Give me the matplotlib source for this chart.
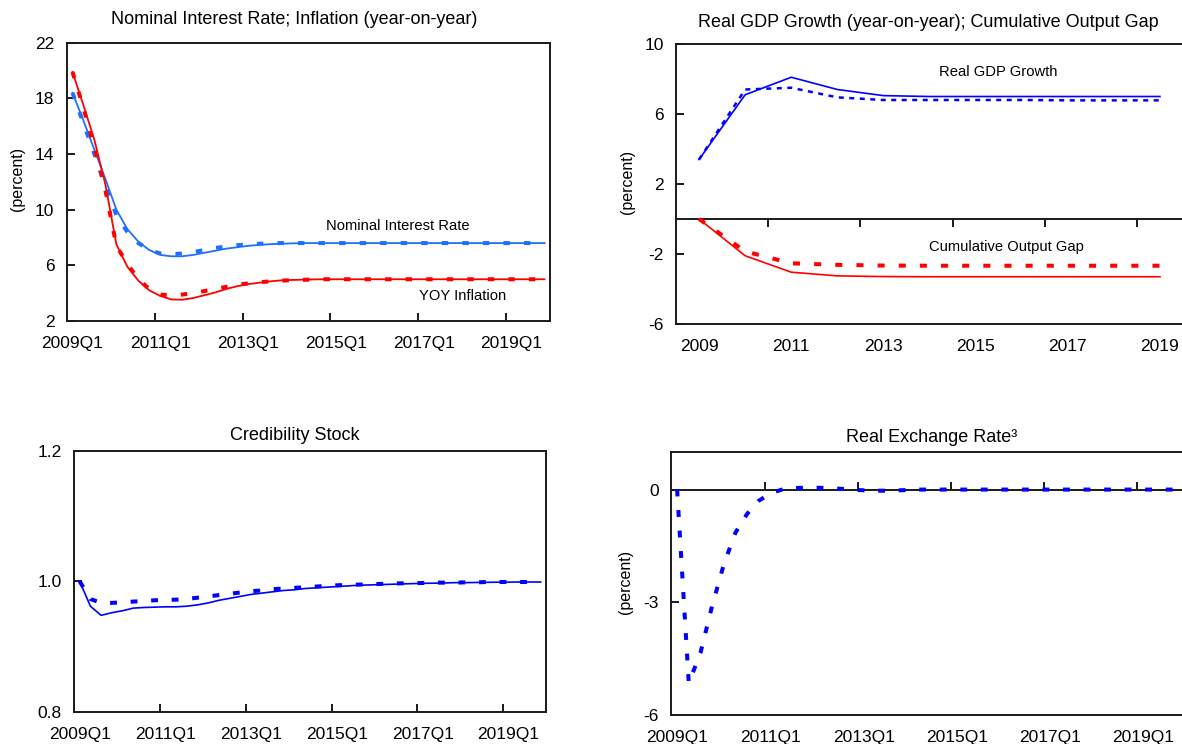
import matplotlib
matplotlib.use('Agg')
import matplotlib.pyplot as plt
from matplotlib.ticker import FormatStrFormatter

plt.rcParams['font.family'] = ['Liberation Sans', 'DejaVu Sans']
plt.rcParams['axes.unicode_minus'] = False

W, H = 1182, 744

# quarterly horizon 2009Q1 .. 2019Q4 (44 quarters)
quarters = list(range(44))
quarter_label_pos = [0, 8, 16, 24, 32, 40]
quarter_labels = ['2009Q1', '2011Q1', '2013Q1', '2015Q1', '2017Q1', '2019Q1']
quarter_tick_pos = [7.5, 15.5, 23.5, 31.5, 39.5]

# annual horizon 2009 .. 2019
years = list(range(11))
year_label_pos = [0, 2, 4, 6, 8, 10]
year_labels = ['2009', '2011', '2013', '2015', '2017', '2019']
year_tick_pos = [1.5, 3.5, 5.5, 7.5, 9.5]

# nominal interest rate (solid = baseline, dashed = alternative)
nir_base = [18.4, 16.4, 14.3, 12.2, 10.0, 8.6, 7.7, 7.1, 6.75, 6.65, 6.65, 6.75,
            6.9, 7.05, 7.2, 7.3, 7.4, 7.47, 7.52, 7.55, 7.58, 7.6, 7.6, 7.6,
            7.6, 7.6, 7.6, 7.6, 7.6, 7.6, 7.6, 7.6, 7.6, 7.6, 7.6, 7.6,
            7.6, 7.6, 7.6, 7.6, 7.6, 7.6, 7.6, 7.6]
nir_alt = [18.4, 16.2, 14.0, 11.7, 9.6, 8.4, 7.6, 7.1, 6.85, 6.8, 6.85, 6.95,
           7.1, 7.25, 7.35, 7.45, 7.5, 7.55, 7.58, 7.6, 7.6, 7.6, 7.6, 7.6,
           7.6, 7.6, 7.6, 7.6, 7.6, 7.6, 7.6, 7.6, 7.6, 7.6, 7.6, 7.6,
           7.6, 7.6, 7.6, 7.6, 7.6, 7.6, 7.6, 7.6]

# year-on-year inflation
infl_base = [19.9, 17.5, 15.0, 11.8, 7.5, 5.9, 4.9, 4.2, 3.8, 3.55, 3.53, 3.65,
             3.85, 4.05, 4.3, 4.5, 4.65, 4.75, 4.85, 4.92, 4.95, 4.97, 4.99, 5.0,
             5.0, 5.0, 5.0, 5.0, 5.0, 5.0, 5.0, 5.0, 5.0, 5.0, 5.0, 5.0,
             5.0, 5.0, 5.0, 5.0, 5.0, 5.0, 5.0, 5.0]
infl_alt = [19.9, 17.3, 14.5, 11.4, 7.4, 6.1, 5.0, 4.3, 3.9, 3.85, 3.9, 4.0,
            4.15, 4.3, 4.45, 4.6, 4.7, 4.78, 4.85, 4.9, 4.93, 4.96, 4.98, 5.0,
            5.0, 5.0, 5.0, 5.0, 5.0, 5.0, 5.0, 5.0, 5.0, 5.0, 5.0, 5.0,
            5.0, 5.0, 5.0, 5.0, 5.0, 5.0, 5.0, 5.0]

# real GDP growth and cumulative output gap (annual)
gdp_base = [3.4, 7.1, 8.1, 7.4, 7.05, 7.0, 7.0, 7.0, 7.0, 7.0, 7.0]
gdp_alt = [3.4, 7.4, 7.5, 6.95, 6.8, 6.8, 6.8, 6.8, 6.78, 6.78, 6.78]
gap_base = [0.0, -2.1, -3.04, -3.25, -3.29, -3.3, -3.3, -3.3, -3.3, -3.3, -3.3]
gap_alt = [0.0, -1.85, -2.53, -2.62, -2.66, -2.67, -2.67, -2.67, -2.67, -2.67, -2.67]

# credibility stock
cred_base = [1.0, 0.962, 0.948, 0.952, 0.955, 0.959, 0.960, 0.9605, 0.961, 0.961, 0.962, 0.964,
             0.967, 0.971, 0.974, 0.977, 0.980, 0.982, 0.984, 0.986, 0.987, 0.989, 0.990, 0.991,
             0.992, 0.993, 0.994, 0.9945, 0.995, 0.9955, 0.996, 0.9965, 0.997, 0.9972, 0.9975, 0.998,
             0.998, 0.9983, 0.9985, 0.9987, 0.9988, 0.999, 0.999, 0.999]
cred_alt = [1.0, 0.973, 0.967, 0.967, 0.968, 0.969, 0.970, 0.971, 0.9715, 0.972, 0.973, 0.975,
            0.977, 0.979, 0.981, 0.983, 0.985, 0.986, 0.988, 0.989, 0.990, 0.991, 0.992, 0.993,
            0.994, 0.9945, 0.995, 0.9955, 0.996, 0.9965, 0.997, 0.9972, 0.9975, 0.998, 0.998, 0.998,
            0.9985, 0.9985, 0.999, 0.999, 0.999, 0.999, 0.999, 0.999]

# real exchange rate
rer_alt = [0.0, -5.15, -4.35, -3.1, -2.0, -1.15, -0.65, -0.3, -0.1, 0.0, 0.04, 0.05,
           0.05, 0.04, 0.02, 0.0, -0.02, -0.03, -0.03, -0.02, -0.01, 0.0, 0.0, 0.0,
           0.0, 0.0, 0.0, 0.0, 0.0, 0.0, 0.0, 0.0, 0.0, 0.0, 0.0, 0.0,
           0.0, 0.0, 0.0, 0.0, 0.0, 0.0, 0.0, 0.0]

blue_light = '#1f6fff'
blue = '#0000ff'
red = '#ff0000'
spine_col = '#1a1a1a'

fig = plt.figure(figsize=(W / 100, H / 100), dpi=100)


def px_axes(left, top, right, bottom):
    return fig.add_axes([left / W, 1 - bottom / H, (right - left) / W, (bottom - top) / H])


def style(ax):
    for s in ax.spines.values():
        s.set_linewidth(1.4)
        s.set_color(spine_col)
    ax.tick_params(which='both', direction='in', length=6, width=1.4,
                   color=spine_col, labelsize=12.5, pad=9)
    ax.tick_params(axis='x', which='both', pad=11)


def fig_text(x, y, s, **kw):
    fig.text(x / W, 1 - y / H, s, ha='center', va='center', **kw)


def quarter_axis(ax):
    ax.set_xlim(-0.5, 43.5)
    ax.set_xticks(quarter_tick_pos)
    ax.set_xticklabels([])
    ax.set_xticks(quarter_label_pos, quarter_labels, minor=True)
    ax.tick_params(axis='x', which='minor', length=0)


def zero_axis(ax, ticks):
    ymin, ymax = ax.get_ylim()
    sec = ax.secondary_xaxis((0 - ymin) / (ymax - ymin))
    sec.set_xticks(ticks)
    sec.set_xticklabels([])
    sec.tick_params(direction='out', length=6, width=1.4, color=spine_col)
    for s in sec.spines.values():
        s.set_linewidth(1.4)
        s.set_color(spine_col)
    return sec


# --- Nominal interest rate; inflation
ax1 = px_axes(67, 42.7, 550, 321)
style(ax1)
ax1.plot(quarters, nir_base, color=blue_light, lw=1.3)
ax1.plot(quarters, infl_base, color=red, lw=1.3)
ax1.plot(quarters, nir_alt, color=blue_light, lw=2.9, dashes=(1.6, 3.5))
ax1.plot(quarters, infl_alt, color=red, lw=2.9, dashes=(1.6, 3.5))
ax1.set_ylim(2, 22)
ax1.set_yticks([2, 6, 10, 14, 18, 22])
quarter_axis(ax1)
fig_text(294.6, 20, 'Nominal Interest Rate; Inflation (year-on-year)', fontsize=13)
fig_text(17, 179, '(percent)', rotation=90, fontsize=11.5)
fig_text(398, 225.7, 'Nominal Interest Rate', fontsize=10.6)
fig_text(463, 295.7, 'YOY Inflation', fontsize=10.6)

# --- Real GDP growth; cumulative output gap
ax2 = px_axes(676, 44, 1183, 324)
style(ax2)
ax2.plot(years, gdp_base, color=blue, lw=1.2)
ax2.plot(years, gdp_alt, color=blue, lw=1.8, dashes=(2.0, 2.2))
ax2.plot(years, gap_base, color=red, lw=1.2)
ax2.plot(years, gap_alt, color=red, lw=2.9, dashes=(1.75, 3.5))
ax2.set_xlim(-0.5, 10.5)
ax2.set_ylim(-6, 10)
ax2.set_yticks([-6, -2, 2, 6, 10])
ax2.set_xticks(year_label_pos, year_labels)
ax2.tick_params(axis='x', length=0)
zero_axis(ax2, year_tick_pos)
fig_text(928, 22.7, 'Real GDP Growth (year-on-year); Cumulative Output Gap', fontsize=13)
fig_text(627, 182, '(percent)', rotation=90, fontsize=11.5)
fig_text(998, 72.3, 'Real GDP Growth', fontsize=10.6)
fig_text(1006, 246.7, 'Cumulative Output Gap', fontsize=10.6)

# --- Credibility stock
ax3 = px_axes(74.3, 450.7, 546, 712)
style(ax3)
ax3.plot(quarters, cred_base, color=blue, lw=1.2)
ax3.plot(quarters, cred_alt, color=blue, lw=2.9, dashes=(1.7, 3.4))
ax3.set_ylim(0.8, 1.2)
ax3.set_yticks([0.8, 1.0, 1.2])
ax3.yaxis.set_major_formatter(FormatStrFormatter('%.1f'))
quarter_axis(ax3)
fig_text(295, 436, 'Credibility Stock', fontsize=13)

# --- Real exchange rate
ax4 = px_axes(671.3, 452, 1184, 715)
style(ax4)
ax4.plot(quarters, rer_alt, color=blue, lw=2.9, dashes=(1.7, 3.4))
ax4.set_xlim(-0.5, 43.5)
ax4.set_ylim(-6, 1)
ax4.set_yticks([-6, -3, 0])
ax4.set_xticks(quarter_label_pos, quarter_labels)
ax4.tick_params(axis='x', length=0)
zero_axis(ax4, quarter_tick_pos)
fig_text(932, 437.3, 'Real Exchange Rate³', fontsize=13)
fig_text(625, 582, '(percent)', rotation=90, fontsize=11.5)

fig.savefig('out.png', dpi=100)
